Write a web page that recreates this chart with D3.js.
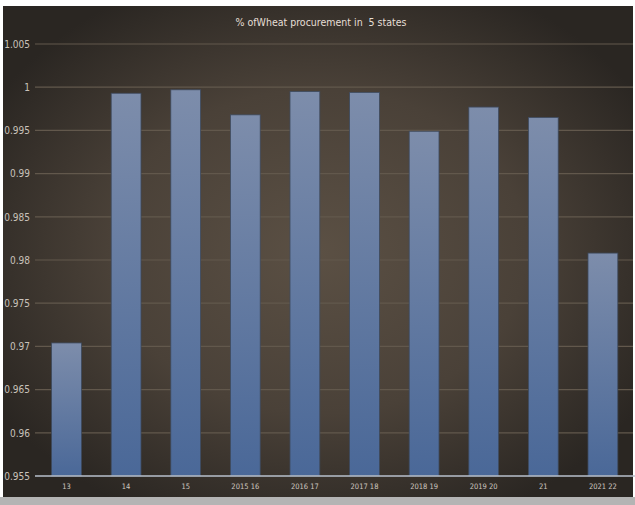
<!DOCTYPE html>
<html><head><meta charset="utf-8">
<script src="https://cdn.jsdelivr.net/npm/d3@7"></script>
<style>html,body{margin:0;padding:0;background:#fff;}svg{display:block;}</style>
</head><body>
<script>
const categories = ["13","14","15","2015 16","2016 17","2017 18","2018 19","2019 20","21","2021 22"];
const values = [0.9704,0.9993,0.9997,0.9968,0.9995,0.9994,0.9949,0.9977,0.9965,0.9808];
const yTicks = [0.955,0.96,0.965,0.97,0.975,0.98,0.985,0.99,0.995,1,1.005];
const title = "% ofWheat procurement in  5 states";

const W=635,H=505;
const svg=d3.select("body").append("svg").attr("width",W).attr("height",H);
const defs=svg.append("defs");
const rg=defs.append("radialGradient").attr("id","bg").attr("cx","50%").attr("cy","50%").attr("r","60%");
rg.append("stop").attr("offset","0%").attr("stop-color","#5b5044");
rg.append("stop").attr("offset","55%").attr("stop-color","#4a4138");
rg.append("stop").attr("offset","100%").attr("stop-color","#2a2622");
const bg=defs.append("linearGradient").attr("id","bar").attr("x1",0).attr("y1",0).attr("x2",0).attr("y2",1);
bg.append("stop").attr("offset","0%").attr("stop-color","#7d8dab");
bg.append("stop").attr("offset","100%").attr("stop-color","#4a6898");

svg.append("rect").attr("x",0).attr("y",497).attr("width",W).attr("height",8).attr("fill","#b4b4b4");
svg.append("rect").attr("x",3).attr("y",6).attr("width",630).attr("height",491).attr("fill","url(#bg)");

const x=d3.scaleBand().domain(categories).range([36.7,632.7]).paddingInner(0.5).paddingOuter(0.25);
const y=d3.scaleLinear().domain([0.955,1.005]).range([476,44]);

const grid=svg.append("g");
grid.selectAll("line").data(yTicks.slice(1)).join("line")
  .attr("x1",35).attr("x2",633).attr("y1",d=>y(d)).attr("y2",d=>y(d))
  .attr("stroke","#62584c").attr("stroke-width",1.2);

svg.append("g").selectAll("rect").data(values).join("rect")
  .attr("x",(d,i)=>x(categories[i])).attr("width",x.bandwidth())
  .attr("y",d=>y(d)).attr("height",d=>y(0.955)-y(d))
  .attr("fill","url(#bar)").attr("stroke","#3e4a5e").attr("stroke-width",0.8);

svg.append("line").attr("x1",35).attr("x2",635).attr("y1",y(0.955)).attr("y2",y(0.955))
  .attr("stroke","#b8c0cc").attr("stroke-width",1.5);

const yAxis=d3.axisLeft(y).tickValues(yTicks).tickFormat(d=>String(+d.toFixed(3))).tickSize(0).tickPadding(0);
const ya=svg.append("g").attr("transform","translate(30,0)").call(yAxis);
ya.select(".domain").remove();
ya.selectAll("text").attr("font-family","'Liberation Sans Narrow', 'DejaVu Sans Condensed', sans-serif")
  .attr("font-size",10).attr("fill","#c9c2ba");

const xAxis=d3.axisBottom(x).tickSize(0).tickPadding(0);
const xa=svg.append("g").attr("transform","translate(0,484)").call(xAxis);
xa.select(".domain").remove();
xa.selectAll("text").attr("font-family","'Liberation Sans Narrow', 'DejaVu Sans Condensed', sans-serif")
  .attr("font-size",7.5).attr("fill","#cfc8c0");

svg.append("text").attr("x",321).attr("y",26).attr("text-anchor","middle")
  .style("white-space","pre")
  .attr("font-family","'DejaVu Sans Condensed', sans-serif").attr("font-size",10.5)
  .attr("fill","#e6dfd6").text(title);
</script>
</body></html>
